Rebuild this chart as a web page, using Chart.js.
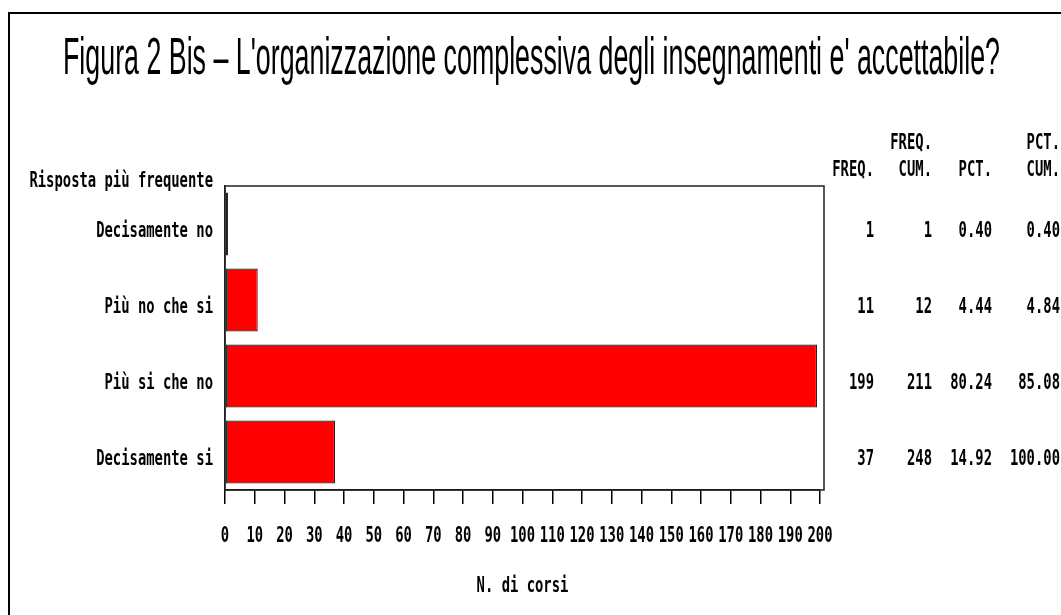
<!DOCTYPE html>
<html>
<head>
<meta charset="utf-8">
<script src="https://cdn.jsdelivr.net/npm/chart.js@4.4.1/dist/chart.umd.min.js"></script>
<style>
  html, body { margin: 0; padding: 0; background: #fff; }
  canvas { display: block; }
</style>
</head>
<body>
<canvas id="chart" width="1061" height="615"></canvas>
<script>
'use strict';

const titleText = "Figura 2 Bis \u2013 L'organizzazione complessiva degli insegnamenti e' accettabile?";
const yAxisTitle = 'Risposta più frequente';
const xAxisTitle = 'N. di corsi';

const categories = ['Decisamente no', 'Più no che si', 'Più si che no', 'Decisamente si'];
const freq = [1, 11, 199, 37];
const cumFreq = [1, 12, 211, 248];
const pct = [0.40, 4.44, 80.24, 14.92];
const cumPct = [0.40, 4.84, 85.08, 100.00];

const xMin = 0;
const xMax = 200;
const xStep = 10;

// table columns: header lines + values
const tableCols = [
	{ head: ['', 'FREQ.'], values: freq.map(String), right: 874 },
	{ head: ['FREQ.', 'CUM.'], values: cumFreq.map(String), right: 932 },
	{ head: ['', 'PCT.'], values: pct.map(v => v.toFixed(2)), right: 992 },
	{ head: ['PCT.', 'CUM.'], values: cumPct.map(v => v.toFixed(2)), right: 1060 },
];

// condensed "SAS" looking monospace text
const monoText = (ctx, str, x, yMid, align) => {
	ctx.save();
	ctx.font = 'bold 22px "DejaVu Sans Mono"';
	const sx = 0.63;
	const w = ctx.measureText(str).width * sx;
	let left = x;
	if (align === 'right') left = x - w;
	if (align === 'center') left = x - w / 2;
	ctx.translate(left, yMid + 8);
	ctx.scale(sx, 1);
	ctx.fillStyle = '#000';
	ctx.textAlign = 'left';
	ctx.textBaseline = 'alphabetic';
	ctx.fillText(str, 0, 0);
	ctx.restore();
};

const decorations = {
	id: 'decorations',
	afterDraw(chart) {
		const ctx = chart.ctx;
		const area = chart.chartArea;
		const xs = chart.scales.x;
		const ys = chart.scales.y;

		// outer frame
		ctx.save();
		ctx.fillStyle = '#000';
		ctx.fillRect(8, 12, 2, 603);
		ctx.fillRect(8, 12, 1053, 2);

		// title, narrow helvetica look
		ctx.font = '51px "Liberation Sans", Arial, sans-serif';
		const tw = ctx.measureText(titleText).width;
		const sx = 937 / tw;
		ctx.translate(63, 74);
		ctx.scale(sx, 1);
		ctx.textBaseline = 'alphabetic';
		ctx.fillText(titleText, 0, 0);
		ctx.restore();

		// plot box
		ctx.save();
		ctx.strokeStyle = '#222';
		ctx.lineWidth = 1.5;
		ctx.strokeRect(area.left, area.top, 824 - area.left, area.bottom - area.top);
		ctx.restore();

		monoText(ctx, yAxisTitle, 213, 179, 'right');

		categories.forEach((c, i) => {
			const y = ys.getPixelForValue(i) + 5;
			monoText(ctx, c, 213, y, 'right');
			tableCols.forEach(col => monoText(ctx, col.values[i], col.right, y, 'right'));
		});

		tableCols.forEach(col => {
			if (col.head[0]) monoText(ctx, col.head[0], col.right, 141, 'right');
			monoText(ctx, col.head[1], col.right, 168, 'right');
		});

		for (let v = xMin; v <= xMax; v += xStep) {
			monoText(ctx, String(v), xs.getPixelForValue(v), 533.5, 'center');
		}

		monoText(ctx, xAxisTitle, (area.left + area.right) / 2, 584, 'center');
	},
};

const ctx = document.getElementById('chart').getContext('2d');

const myChart = new Chart(ctx, {
	type: 'bar',
	data: {
		labels: categories,
		datasets: [
			{
				data: freq,
				backgroundColor: '#ff0000',
				borderColor: '#222',
				borderWidth: 1.2,
				borderSkipped: false,
				barPercentage: 0.83,
				categoryPercentage: 1,
			},
		],
	},
	options: {
		indexAxis: 'y',
		responsive: false,
		animation: false,
		layout: { padding: { left: 0, top: 186, right: 241, bottom: 0 } },
		plugins: {
			legend: { display: false },
			tooltip: { enabled: false },
			title: { display: false },
		},
		scales: {
			x: {
				min: xMin,
				max: xMax,
				ticks: { stepSize: xStep, display: false },
				grid: {
					display: true,
					drawOnChartArea: false,
					drawTicks: true,
					tickLength: 14,
					color: '#000',
					lineWidth: 1.5,
				},
				border: { display: true, color: '#000', width: 1.5 },
				afterFit: scale => { scale.height = 125; },
			},
			y: {
				ticks: { display: false },
				grid: { display: false },
				border: { display: true, color: '#222', width: 1.5 },
				afterFit: scale => { scale.width = 225; },
			},
		},
	},
	plugins: [decorations],
});
</script>
</body>
</html>
